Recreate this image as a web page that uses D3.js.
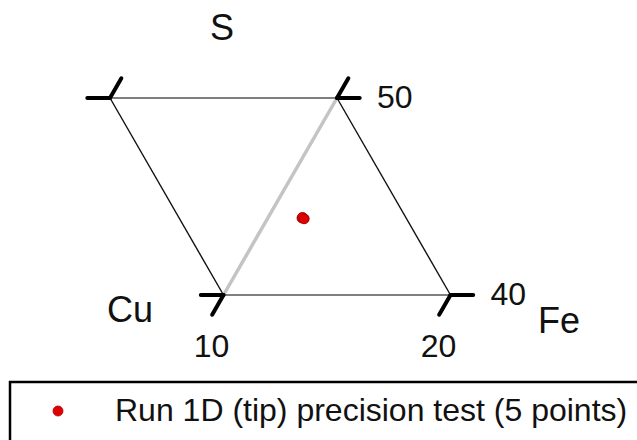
<!DOCTYPE html>
<html>
<head>
<meta charset="utf-8">
<script src="https://cdn.jsdelivr.net/npm/d3@7"></script>
<style>
  html, body { margin: 0; padding: 0; background: #fff; }
  svg { display: block; font-family: "Liberation Sans", Arial, sans-serif; }
</style>
</head>
<body>
<svg id="chart" width="637" height="440"></svg>
<script>
// Ternary window: S and Cu limits (wt %), Fe = 100 - S - Cu
const sRange = [40, 50];
const cuRange = [40, 50];
// Tick labels shown on the window
const sTickLabels = ["40", "50"];   // right-hand corners
const feTickLabels = ["10", "20"];  // bottom corners
const axisTitles = ["S", "Cu", "Fe"];

// Run 1D (tip) precision test, five repeat measurements (wt %)
const runCu = [44.55, 44.50, 44.60, 44.55, 44.52];
const runS  = [43.92, 43.88, 43.90, 43.95, 43.86];
const legendLabel = "Run 1D (tip) precision test (5 points)";

const H = Math.sqrt(3) / 2;
// Cartesian ternary coordinates: X = Fe + S/2, Y = S * sqrt(3)/2
const tx = (cu, s) => (100 - cu - s) + s / 2;
const ty = s => s * H;

const x = d3.scaleLinear().domain([25, 40]).range([110, 450.5]);
const y = d3.scaleLinear().domain([sRange[0] * H, sRange[1] * H]).range([295, 98]);
const px = (cu, s) => [x(tx(cu, s)), y(ty(s))];

const svg = d3.select("#chart");

// window corners
const TL = {cu: cuRange[1], s: sRange[1]};
const TR = {cu: cuRange[0], s: sRange[1]};
const BL = {cu: cuRange[1], s: sRange[0]};
const BR = {cu: cuRange[0], s: sRange[0]};
const P = c => px(c.cu, c.s);

// constant-S edges (top and bottom)
svg.selectAll("line.sedge").data([[TL, TR], [BL, BR]]).join("line")
  .attr("class", "sedge")
  .attr("x1", d => P(d[0])[0]).attr("y1", d => P(d[0])[1])
  .attr("x2", d => P(d[1])[0]).attr("y2", d => P(d[1])[1])
  .attr("stroke", "#555").attr("stroke-width", 1.6);

// constant-Cu edges (left and right)
svg.selectAll("line.cuedge").data([[TL, BL], [TR, BR]]).join("line")
  .attr("class", "cuedge")
  .attr("x1", d => P(d[0])[0]).attr("y1", d => P(d[0])[1])
  .attr("x2", d => P(d[1])[0]).attr("y2", d => P(d[1])[1])
  .attr("stroke", "#111").attr("stroke-width", 1.4);

// Fe = 10 iso-line across the window
const fe10 = +feTickLabels[0];
const isoA = {cu: 100 - fe10 - sRange[0], s: sRange[0]};
const isoB = {cu: 100 - fe10 - sRange[1], s: sRange[1]};
svg.append("line")
  .attr("x1", P(isoA)[0]).attr("y1", P(isoA)[1])
  .attr("x2", P(isoB)[0]).attr("y2", P(isoB)[1])
  .attr("stroke", "#c4c4c4").attr("stroke-width", 3.5);

// corner ticks: along constant S (outward horizontally) and constant Fe (outward vertically)
const tickLen = 1;
const corners = [
  {c: TL, dh: -1, dv: +1},
  {c: TR, dh: +1, dv: +1},
  {c: BL, dh: -1, dv: -1},
  {c: BR, dh: +1, dv: -1}
];
const ticks = [];
corners.forEach(k => {
  // constant S: Cu decreases as we move right
  ticks.push([k.c, {cu: k.c.cu - k.dh * tickLen, s: k.c.s}]);
  // constant Fe: S up, Cu down
  ticks.push([k.c, {cu: k.c.cu - k.dv * tickLen, s: k.c.s + k.dv * tickLen}]);
});
svg.selectAll("line.tick").data(ticks).join("line")
  .attr("class", "tick")
  .attr("x1", d => P(d[0])[0]).attr("y1", d => P(d[0])[1])
  .attr("x2", d => P(d[1])[0]).attr("y2", d => P(d[1])[1])
  .attr("stroke", "#000").attr("stroke-width", 4).attr("stroke-linecap", "round");

// S tick labels beside the right-hand corners
svg.selectAll("text.slab").data([BR, TR]).join("text")
  .attr("class", "slab")
  .attr("x", d => P(d)[0] + 40).attr("y", d => P(d)[1] + 10)
  .attr("font-size", 32).attr("fill", "#111")
  .text((d, i) => sTickLabels[i]);

// Fe tick labels below the bottom corners
svg.selectAll("text.felab").data([BL, BR]).join("text")
  .attr("class", "felab")
  .attr("x", d => P(d)[0] - 12).attr("y", d => P(d)[1] + 62)
  .attr("text-anchor", "middle")
  .attr("font-size", 32).attr("fill", "#111")
  .text((d, i) => feTickLabels[i]);

// axis titles
svg.append("text").attr("x", 222).attr("y", 40).attr("text-anchor", "middle")
  .attr("font-size", 36).attr("fill", "#111").text(axisTitles[0]);
svg.append("text").attr("x", 130).attr("y", 322).attr("text-anchor", "middle")
  .attr("font-size", 36).attr("fill", "#111").text(axisTitles[1]);
svg.append("text").attr("x", 538).attr("y", 333)
  .attr("font-size", 36).attr("fill", "#111").text(axisTitles[2]);

// measurements
svg.selectAll("circle.pt").data(d3.range(runCu.length)).join("circle")
  .attr("class", "pt")
  .attr("cx", i => px(runCu[i], runS[i])[0])
  .attr("cy", i => px(runCu[i], runS[i])[1])
  .attr("r", 4.8)
  .attr("fill", "#e00000").attr("stroke", "#a00000").attr("stroke-width", 0.8);

// legend
svg.append("rect").attr("x", 10).attr("y", 382).attr("width", 700).attr("height", 100)
  .attr("fill", "none").attr("stroke", "#000").attr("stroke-width", 2.5);
svg.append("circle").attr("cx", 58).attr("cy", 411).attr("r", 5)
  .attr("fill", "#e00000").attr("stroke", "#b00000").attr("stroke-width", 0.8);
svg.append("text").attr("x", 115).attr("y", 421)
  .attr("font-size", 32).attr("fill", "#111").text(legendLabel);
</script>
</body>
</html>
